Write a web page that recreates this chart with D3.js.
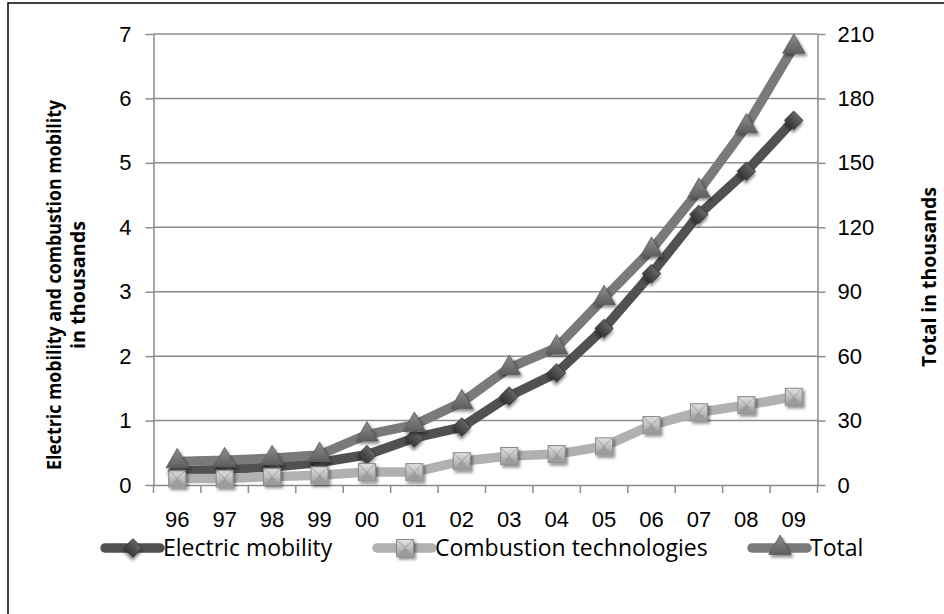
<!DOCTYPE html>
<html>
<head>
<meta charset="utf-8">
<script src="https://cdn.jsdelivr.net/npm/d3@7"></script>
<style>
  body { margin: 0; background: #fff; }
  svg { font-family: "Open Sans", "Noto Sans", sans-serif; }
</style>
</head>
<body>
<svg id="chart" width="944" height="614"></svg>
<script>
const years = ['96', '97', '98', '99', '00', '01', '02', '03', '04', '05', '06', '07', '08', '09'];
const electric = [0.22, 0.24, 0.28, 0.35, 0.47, 0.73, 0.9, 1.38, 1.74, 2.43, 3.28, 4.2, 4.87, 5.66];
const combustion = [0.1, 0.1, 0.13, 0.15, 0.2, 0.2, 0.37, 0.45, 0.48, 0.6, 0.93, 1.13, 1.24, 1.37];
const total = [11, 11.5, 12.5, 14, 23.5, 28, 38.5, 54.5, 64, 87, 109.5, 137, 167, 204];
const leftTicks = [0, 1, 2, 3, 4, 5, 6, 7];
const rightTicks = [0, 30, 60, 90, 120, 150, 180, 210];

const plotLeft = 153.5, plotRight = 817.5, plotTop = 34, plotBottom = 485;
const axisColor = '#8c8c8c';
const labelSize = 22;

const svg = d3.select('#chart');

// outer frame (only left and top show in the picture)
svg.append('path')
  .attr('d', 'M8,614V3H944')
  .attr('fill', 'none')
  .attr('stroke', '#000')
  .attr('stroke-width', 1.5);

const defs = svg.append('defs');
const shadow = defs.append('filter').attr('id', 'shadow')
  .attr('x', '-50%').attr('y', '-50%').attr('width', '200%').attr('height', '200%');
shadow.append('feDropShadow')
  .attr('dx', 2).attr('dy', 2.5).attr('stdDeviation', 1.6)
  .attr('flood-color', '#000').attr('flood-opacity', 0.45);

function grad(id, c1, c2) {
  const g = defs.append('linearGradient').attr('id', id)
    .attr('x1', 0).attr('y1', 0).attr('x2', 0).attr('y2', 1);
  g.append('stop').attr('offset', '0%').attr('stop-color', c1);
  g.append('stop').attr('offset', '100%').attr('stop-color', c2);
}
grad('gElec', '#666', '#383838');
grad('gComb', '#e2e2e2', '#9a9a9a');
grad('gTot', '#8e8e8e', '#5e5e5e');

let x = d3.scaleBand()
  .domain(years)
  .range([plotLeft, plotRight]);

let yLeft = d3.scaleLinear()
  .domain([0, 7])
  .range([plotBottom, plotTop]);

let yRight = d3.scaleLinear()
  .domain([0, 210])
  .range([plotBottom, plotTop]);

// gridlines
svg.append('g')
  .selectAll('line')
  .data(leftTicks.slice(1))
  .join('line')
  .attr('x1', plotLeft).attr('x2', plotRight)
  .attr('y1', d => yLeft(d)).attr('y2', d => yLeft(d))
  .attr('stroke', axisColor)
  .attr('stroke-width', 1.5);

// left axis
let leftAxis = svg.append('g')
  .attr('transform', `translate(${plotLeft},0)`)
  .call(d3.axisLeft(yLeft).tickValues(leftTicks).tickFormat(d3.format('d'))
    .tickSize(8).tickSizeOuter(0).tickPadding(14));
leftAxis.selectAll('path, line').attr('stroke', axisColor).attr('stroke-width', 1.5);
leftAxis.selectAll('text').attr('font-size', labelSize).attr('fill', '#000');

// right axis
let rightAxis = svg.append('g')
  .attr('transform', `translate(${plotRight},0)`)
  .call(d3.axisRight(yRight).tickValues(rightTicks).tickFormat(d3.format('d'))
    .tickSize(8).tickSizeOuter(0).tickPadding(12));
rightAxis.selectAll('path, line').attr('stroke', axisColor).attr('stroke-width', 1.5);
rightAxis.selectAll('text').attr('font-size', labelSize).attr('fill', '#000');

// bottom axis: ticks between categories, labels centred in bands
let xAxis = svg.append('g')
  .attr('transform', `translate(0,${plotBottom})`)
  .call(d3.axisBottom(x).tickSize(0).tickSizeOuter(0).tickPadding(26));
xAxis.select('.domain').attr('stroke', axisColor).attr('stroke-width', 1.5);
xAxis.selectAll('text').attr('font-size', labelSize).attr('fill', '#000');

const bounds = years.map(d => x(d)).concat([x(years[years.length - 1]) + x.bandwidth()]);
svg.append('g')
  .selectAll('line')
  .data(bounds)
  .join('line')
  .attr('x1', d => d).attr('x2', d => d)
  .attr('y1', plotBottom).attr('y2', plotBottom + 8)
  .attr('stroke', axisColor)
  .attr('stroke-width', 1.5);

// axis titles (squeezed to the width the narrow original font takes)
let leftTitle = svg.append('text')
  .attr('text-anchor', 'middle')
  .attr('transform', 'translate(61,285)rotate(-90)')
  .attr('font-size', 20)
  .attr('font-weight', 'bold');
leftTitle.append('tspan').attr('x', 0).attr('dy', 0)
  .attr('textLength', 370).attr('lengthAdjust', 'spacingAndGlyphs')
  .text('Electric mobility and combustion mobility');
leftTitle.append('tspan').attr('x', 0).attr('dy', 24)
  .attr('textLength', 128).attr('lengthAdjust', 'spacingAndGlyphs')
  .text('in thousands');

svg.append('text')
  .attr('text-anchor', 'middle')
  .attr('transform', 'translate(936,277)rotate(-90)')
  .attr('font-size', 19)
  .attr('font-weight', 'bold')
  .attr('textLength', 180).attr('lengthAdjust', 'spacingAndGlyphs')
  .text('Total in thousands');

const cx = (d, i) => x(years[i]) + x.bandwidth() / 2;

// marker drawing helpers
function diamond(g, px, py, s) {
  g.append('path')
    .attr('d', d3.symbol(d3.symbolSquare, s * s)())
    .attr('transform', `translate(${px},${py})rotate(45)`)
    .attr('fill', 'url(#gElec)')
    .attr('stroke', '#363636')
    .attr('stroke-width', 0.8)
    .attr('filter', 'url(#shadow)');
}

function square(g, px, py, s) {
  const h = s / 2;
  const m = g.append('g').attr('transform', `translate(${px},${py})`).attr('filter', 'url(#shadow)');
  m.append('rect')
    .attr('x', -h).attr('y', -h).attr('width', s).attr('height', s)
    .attr('fill', 'url(#gComb)')
    .attr('stroke', '#8a8a8a')
    .attr('stroke-width', 1);
  m.append('path')
    .attr('d', `M${-h},${-h}L${h},${h}M${h},${-h}L${-h},${h}`)
    .attr('stroke', '#a0a0a0')
    .attr('stroke-width', 1);
  m.append('path')
    .attr('d', `M${-h},${h}L0,0L${h},${h}Z`)
    .attr('fill', '#9c9c9c');
}

function triangle(g, px, py, s) {
  g.append('path')
    .attr('d', d3.symbol(d3.symbolTriangle, s * s * 0.45)())
    .attr('transform', `translate(${px},${py})`)
    .attr('fill', 'url(#gTot)')
    .attr('stroke', '#5a5a5a')
    .attr('stroke-width', 0.8)
    .attr('filter', 'url(#shadow)');
}

const series = [
  { values: electric, scale: yLeft, color: '#515151', marker: diamond, size: 13 },
  { values: combustion, scale: yLeft, color: '#b1b1b1', marker: square, size: 17 },
  { values: total, scale: yRight, color: '#7a7a7a', marker: triangle, size: 22 }
];

series.forEach(s => {
  let line = d3.line()
    .x(cx)
    .y(d => s.scale(d));

  svg.append('path')
    .attr('d', line(s.values))
    .attr('fill', 'none')
    .attr('stroke', s.color)
    .attr('stroke-width', 9.5)
    .attr('stroke-linejoin', 'round')
    .attr('stroke-linecap', 'butt');

  let mg = svg.append('g');
  s.values.forEach((d, i) => s.marker(mg, cx(d, i), s.scale(d), s.size));
});

// legend
const legendNames = ['Electric mobility', 'Combustion technologies', 'Total'];
const legendX = [105, 377, 752];
const legendY = 548;

series.forEach((s, i) => {
  let g = svg.append('g');
  g.append('line')
    .attr('x1', legendX[i]).attr('x2', legendX[i] + 55)
    .attr('y1', legendY).attr('y2', legendY)
    .attr('stroke', s.color)
    .attr('stroke-width', 9.5)
    .attr('stroke-linecap', 'round');
  s.marker(g, legendX[i] + 28, legendY, s.size);
  g.append('text')
    .attr('x', legendX[i] + 58)
    .attr('y', legendY)
    .attr('dy', '0.35em')
    .attr('font-size', 23)
    .text(legendNames[i]);
});
</script>
</body>
</html>
